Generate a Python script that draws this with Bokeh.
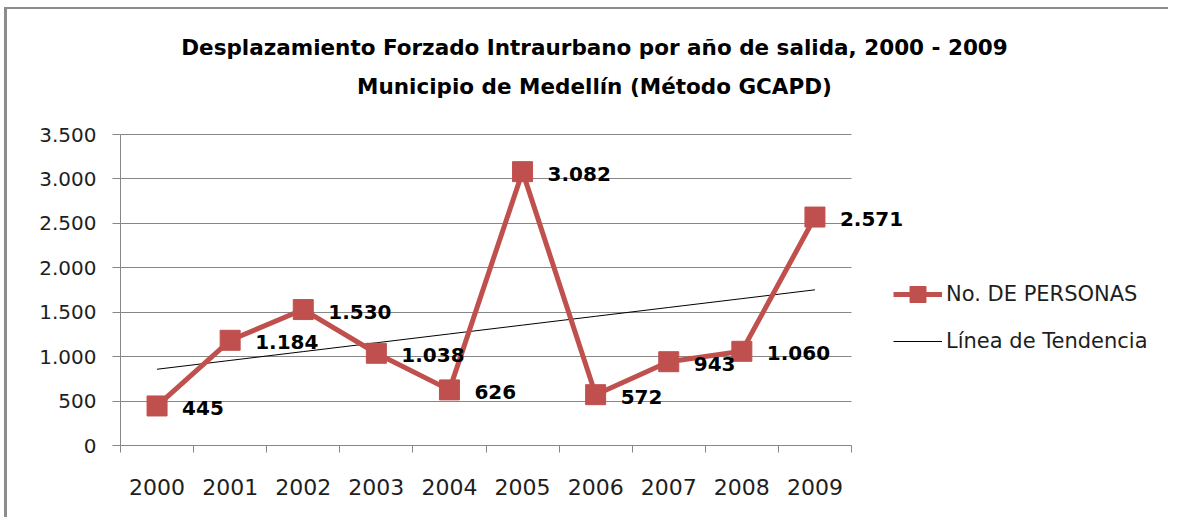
import numpy as np
from bokeh.plotting import figure
from bokeh.models import (Range1d, FixedTicker, Label, Legend, LegendItem,
                          ColumnDataSource, LabelSet)
from bokeh.core.properties import value
from bokeh.embed import file_html
from bokeh.resources import INLINE

# ---- data ----
years = ["2000", "2001", "2002", "2003", "2004", "2005", "2006", "2007", "2008", "2009"]
personas = [445, 1184, 1530, 1038, 626, 3082, 572, 943, 1060, 2571]
y_ticks = [0, 500, 1000, 1500, 2000, 2500, 3000, 3500]
y_tick_labels = ["0", "500", "1.000", "1.500", "2.000", "2.500", "3.000", "3.500"]
title_lines = ["Desplazamiento Forzado Intraurbano por año de salida, 2000 - 2009",
               "Municipio de Medellín (Método GCAPD)"]
series_name = "No. DE PERSONAS"
trend_name = "Línea de Tendencia"

RED = "#C0504D"
GRAY = "#878787"
FONT = "DejaVu Sans"
TXT = "#1e1e1e"

# ---- layout (pixels, picture coordinates) ----
OX, OY = 7, 9                 # where the canvas starts
W, H = 1171 - OX, 519 - OY
AX_X, AX_Y = 120, 445         # value axis x / category axis y
AREA_W, AREA_H = 731, 311     # plotting area covering the categories / 0..3500
n = len(years)
px_x = n / AREA_W
px_y = y_ticks[-1] / AREA_H


def dx(page_x):
    return -0.5 + (page_x - AX_X) * px_x


def dy(page_y):
    return (AX_Y - page_y) * px_y


xs = list(range(n))
labels = [f"{v:,}".replace(",", ".") for v in personas]
slope, intercept = np.polyfit(xs, personas, 1)
trend_y = [intercept + slope * x for x in xs]

src = ColumnDataSource(dict(x=xs, y=personas, lab=labels))

p = figure(width=W, height=H, output_backend="svg", toolbar_location=None,
           x_range=Range1d(dx(AX_X), dx(OX + W)),
           y_range=Range1d(0, dy(OY)),
           min_border_left=AX_X - OX, min_border_right=0, min_border_top=0,
           min_border_bottom=OY + H - AX_Y, title=None)
p.styles = {"box-shadow": "-3px -2px 0 0 #8c8c8c", "position": "relative",
            "left": f"{OX}px", "top": f"{OY}px", "overflow": "hidden"}
p.outline_line_color = None
p.background_fill_color = "white"
p.border_fill_color = "white"

# axes
p.xaxis.bounds = (-0.5, n - 0.5)
p.xaxis.ticker = FixedTicker(ticks=xs, minor_ticks=[x - 0.5 for x in xs] + [n - 0.5])
p.xaxis.major_label_overrides = {x: y for x, y in zip(xs, years)}
p.xaxis.major_tick_line_color = None
p.xaxis.major_tick_out = 7
p.xaxis.major_tick_in = 0
p.xaxis.minor_tick_out = 7
p.xaxis.minor_tick_in = 0
p.xaxis.minor_tick_line_color = GRAY
p.xaxis.axis_line_color = GRAY
p.xaxis.major_label_standoff = 26
p.xaxis.major_label_text_font = FONT
p.xaxis.major_label_text_font_size = "22px"
p.xaxis.major_label_text_color = TXT

p.yaxis.bounds = (0, y_ticks[-1])
p.yaxis.ticker = FixedTicker(ticks=y_ticks, minor_ticks=[])
p.yaxis.major_label_overrides = {t: l for t, l in zip(y_ticks, y_tick_labels)}
p.yaxis.major_tick_out = 8
p.yaxis.major_tick_in = 0
p.yaxis.major_tick_line_color = GRAY
p.yaxis.axis_line_color = GRAY
p.yaxis.major_label_standoff = 16
p.yaxis.major_label_text_font = FONT
p.yaxis.major_label_text_font_size = "20px"
p.yaxis.major_label_text_color = TXT

p.xgrid.grid_line_color = None
p.ygrid.ticker = FixedTicker(ticks=y_ticks, minor_ticks=[])
p.ygrid.bounds = (0, y_ticks[-1] + 1)
p.ygrid.cross_bounds = (-0.5, n - 0.5)
p.ygrid.grid_line_color = GRAY
p.ygrid.grid_line_width = 1

# series
trend_r = p.line(xs, trend_y, line_color="black", line_width=1)
line_r = p.line("x", "y", source=src, line_color=RED, line_width=5)
sq_r = p.scatter("x", "y", source=src, marker="square", size=20,
                 fill_color=RED, line_color=RED)

p.add_layout(LabelSet(x="x", y="y", text="lab", source=src, x_offset=25, y_offset=-2,
                      text_font=value(FONT), text_font_style="bold",
                      text_font_size="20px", text_baseline="middle",
                      text_align="left", text_color="black"))

# title
for line_text, cy in zip(title_lines, [47, 86]):
    p.add_layout(Label(x=dx(594), y=dy(cy), text=line_text, text_align="center",
                       text_baseline="middle", text_font=FONT, text_font_style="bold",
                       text_font_size="21.5px", text_color="black"))

legend = Legend(items=[LegendItem(label=series_name, renderers=[line_r, sq_r]),
                       LegendItem(label=trend_name, renderers=[trend_r])],
                location=(893 - AX_X, AX_Y - 361), orientation="vertical")
legend.border_line_color = None
legend.background_fill_alpha = 0
legend.padding = 0
legend.margin = 0
legend.glyph_width = 49
legend.glyph_height = 40
legend.label_height = 40
legend.spacing = 7
legend.label_standoff = 4
legend.label_text_font = FONT
legend.label_text_font_size = "21px"
legend.label_text_color = TXT
legend.label_text_baseline = "middle"
p.add_layout(legend)

open("out.html", "w").write(file_html(p, INLINE))
